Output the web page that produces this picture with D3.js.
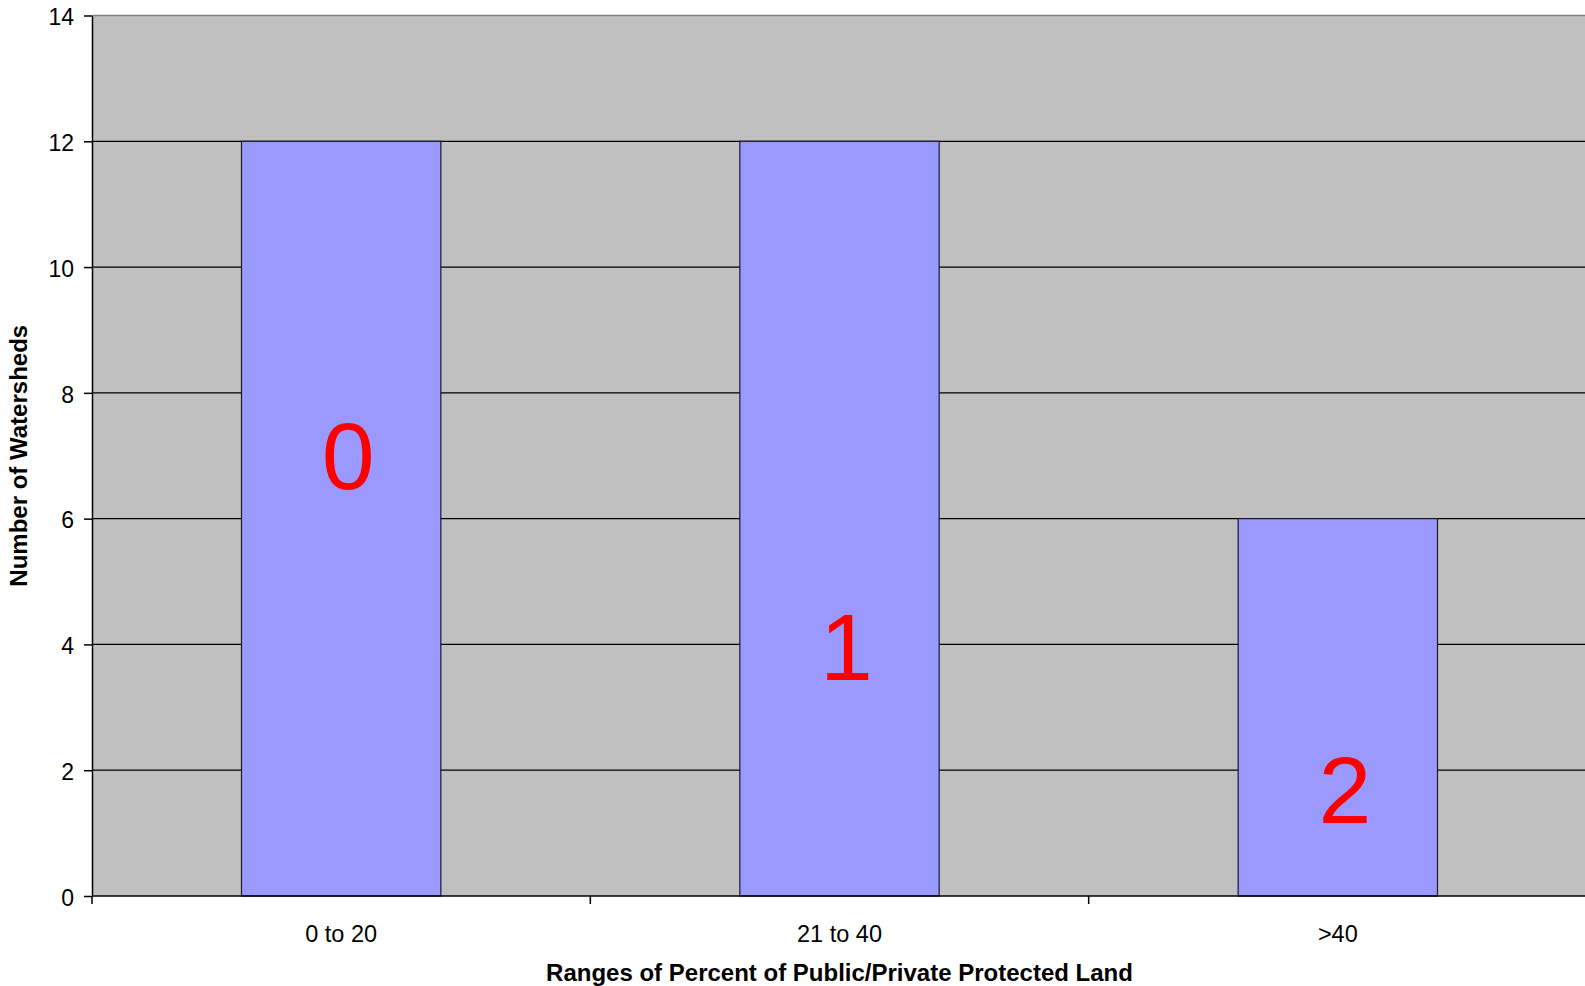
<!DOCTYPE html>
<html>
<head>
<meta charset="utf-8">
<script src="https://cdn.jsdelivr.net/npm/d3@7"></script>
<style>
  html, body { margin: 0; padding: 0; background: #ffffff; }
  svg { display: block; }
  text { font-family: "Liberation Sans", Arial, sans-serif; }
</style>
</head>
<body>
<svg id="chart" width="1585" height="986"></svg>
<script>
// Watersheds counted per protected-land range
const categories = ["0 to 20", "21 to 40", ">40"];
const watershedCounts = [12, 12, 6];

// Annotation text placed inside each bar, and the level (in axis units) of its baseline
const barTags = ["0", "1", "2"];
const barTagLevels = [6.47, 3.43, 1.16];

const yTicks = [0, 2, 4, 6, 8, 10, 12, 14];
const yTitle = "Number of Watersheds";
const xTitle = "Ranges of Percent of Public/Private Protected Land";

const W = 1585, H = 986;
const plotLeft = 92, plotRight = 1587, plotTop = 15.5, plotBottom = 896;

const svg = d3.select("#chart");

const x = d3.scaleBand()
  .domain(categories)
  .range([plotLeft, plotRight])
  .paddingInner(0)
  .paddingOuter(0);

const y = d3.scaleLinear()
  .domain([0, 14])
  .range([plotBottom, plotTop]);

const barWidth = x.bandwidth() * 0.4;

// Plot area background
svg.append("rect")
  .attr("x", plotLeft).attr("y", plotTop)
  .attr("width", W - plotLeft).attr("height", plotBottom - plotTop)
  .attr("fill", "#c0c0c0");

// Horizontal gridlines
svg.append("g")
  .selectAll("line")
  .data(yTicks.filter(d => d > 0 && d < 14))
  .join("line")
  .attr("x1", plotLeft).attr("x2", W)
  .attr("y1", d => y(d)).attr("y2", d => y(d))
  .attr("stroke", "#000").attr("stroke-width", 1.2);

// Top edge of plot area
svg.append("line")
  .attr("x1", plotLeft).attr("x2", W)
  .attr("y1", y(14)).attr("y2", y(14))
  .attr("stroke", "#808080").attr("stroke-width", 1.5);

// Bars
svg.append("g")
  .selectAll("rect")
  .data(categories.map((c, i) => ({ c, v: watershedCounts[i] })))
  .join("rect")
  .attr("x", d => x(d.c) + (x.bandwidth() - barWidth) / 2)
  .attr("y", d => y(d.v))
  .attr("width", barWidth)
  .attr("height", d => y(0) - y(d.v))
  .attr("fill", "#9999ff")
  .attr("stroke", "#1a1a2a")
  .attr("stroke-width", 1.2);

// Y axis
const yAxis = svg.append("g")
  .attr("transform", `translate(${plotLeft},0)`)
  .call(d3.axisLeft(y).tickValues(yTicks).tickSize(8).tickSizeOuter(0).tickPadding(10));
yAxis.select(".domain").attr("stroke", "#000").attr("stroke-width", 1.5);
yAxis.selectAll(".tick line").attr("stroke", "#000").attr("stroke-width", 1.5);
yAxis.selectAll(".tick text")
  .attr("font-size", 23)
  .attr("font-family", "Liberation Sans, Arial, sans-serif")
  .attr("fill", "#000")
  .attr("dy", "0.4em");

// X axis: category labels centred in each band
const xAxis = svg.append("g")
  .attr("transform", `translate(0,${plotBottom})`)
  .call(d3.axisBottom(x).tickSize(0).tickSizeOuter(0).tickPadding(0));
xAxis.select(".domain").remove();
xAxis.append("line")
  .attr("x1", plotLeft).attr("x2", W)
  .attr("y1", 0).attr("y2", 0)
  .attr("stroke", "#000").attr("stroke-width", 1.5);
xAxis.selectAll(".tick text")
  .attr("font-size", 23.5)
  .attr("font-family", "Liberation Sans, Arial, sans-serif")
  .attr("fill", "#000")
  .attr("y", 46)
  .attr("dy", 0);

// Tick marks at band boundaries
const boundaries = categories.map(c => x(c)).concat([x(categories[categories.length - 1]) + x.step()]);
xAxis.append("g")
  .selectAll("line")
  .data(boundaries)
  .join("line")
  .attr("x1", d => d).attr("x2", d => d)
  .attr("y1", 0).attr("y2", 8)
  .attr("stroke", "#000").attr("stroke-width", 1.5);

// Annotations inside bars
svg.append("g")
  .selectAll("text")
  .data(categories.map((c, i) => ({ c, t: barTags[i], lv: barTagLevels[i] })))
  .join("text")
  .attr("x", d => x(d.c) + x.bandwidth() / 2 + 7)
  .attr("y", d => y(d.lv))
  .attr("text-anchor", "middle")
  .attr("font-size", 95)
  .attr("fill", "#ff0000")
  .text(d => d.t);

// Axis titles
svg.append("text")
  .attr("transform", `translate(26.5,${(plotTop + plotBottom) / 2}) rotate(-90)`)
  .attr("text-anchor", "middle")
  .attr("font-size", 24)
  .attr("font-weight", "bold")
  .attr("fill", "#000")
  .text(yTitle);

svg.append("text")
  .attr("x", (plotLeft + plotRight) / 2)
  .attr("y", 981)
  .attr("text-anchor", "middle")
  .attr("font-size", 24)
  .attr("font-weight", "bold")
  .attr("fill", "#000")
  .text(xTitle);
</script>
</body>
</html>
